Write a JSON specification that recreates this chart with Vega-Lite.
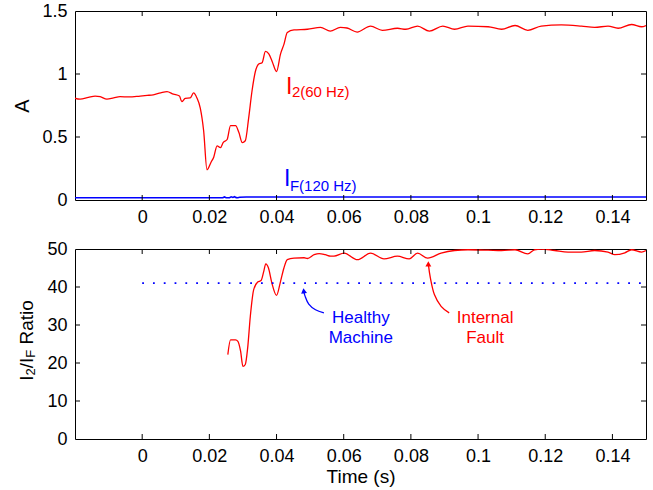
{
"$schema":"https://vega.github.io/schema/vega-lite/v6.json",
"background":"white",
"padding":{"left":12,"top":1,"right":6,"bottom":0},
"spacing":12,
"config":{"font":"Liberation Sans","view":{"stroke":"#000","strokeWidth":1},
 "axis":{"grid":false,"domain":false,"ticks":false,"labelColor":"#000","labelFontSize":18,"labelFont":"Liberation Sans","titleFont":"Liberation Sans","titleFontSize":19,"titleFontWeight":"normal","titleColor":"#000","labelPadding":8}},
"datasets":{
 "i2":[{"t":-0.0203,"v":0.81},{"t":-0.0185,"v":0.8},{"t":-0.016,"v":0.815},{"t":-0.014,"v":0.825},{"t":-0.0125,"v":0.82},{"t":-0.0105,"v":0.8},{"t":-0.0085,"v":0.81},{"t":-0.0066,"v":0.82},{"t":-0.004,"v":0.818},{"t":-0.0006,"v":0.825},{"t":0.0015,"v":0.83},{"t":0.0033,"v":0.835},{"t":0.0055,"v":0.85},{"t":0.0074,"v":0.86},{"t":0.0093,"v":0.84},{"t":0.0111,"v":0.825},{"t":0.0118,"v":0.78},{"t":0.0128,"v":0.807},{"t":0.0143,"v":0.81},{"t":0.0153,"v":0.85},{"t":0.0163,"v":0.81},{"t":0.0173,"v":0.73},{"t":0.0183,"v":0.55},{"t":0.0193,"v":0.24},{"t":0.0205,"v":0.3},{"t":0.0213,"v":0.34},{"t":0.0223,"v":0.43},{"t":0.0233,"v":0.415},{"t":0.0241,"v":0.455},{"t":0.0253,"v":0.48},{"t":0.0263,"v":0.59},{"t":0.0278,"v":0.59},{"t":0.0288,"v":0.535},{"t":0.0298,"v":0.455},{"t":0.0307,"v":0.47},{"t":0.0317,"v":0.65},{"t":0.0327,"v":0.865},{"t":0.0337,"v":1.02},{"t":0.0347,"v":1.08},{"t":0.0357,"v":1.09},{"t":0.0367,"v":1.18},{"t":0.0377,"v":1.16},{"t":0.0387,"v":1.1},{"t":0.04,"v":1.02},{"t":0.0412,"v":1.16},{"t":0.0422,"v":1.235},{"t":0.0432,"v":1.33},{"t":0.0452,"v":1.35},{"t":0.0492,"v":1.355},{"t":0.0531,"v":1.37},{"t":0.056,"v":1.34},{"t":0.059,"v":1.37},{"t":0.061,"v":1.365},{"t":0.064,"v":1.333},{"t":0.068,"v":1.38},{"t":0.0715,"v":1.347},{"t":0.076,"v":1.363},{"t":0.0785,"v":1.355},{"t":0.082,"v":1.38},{"t":0.0855,"v":1.34},{"t":0.0895,"v":1.38},{"t":0.093,"v":1.355},{"t":0.097,"v":1.38},{"t":0.103,"v":1.375},{"t":0.107,"v":1.355},{"t":0.111,"v":1.385},{"t":0.1148,"v":1.347},{"t":0.1188,"v":1.38},{"t":0.1248,"v":1.39},{"t":0.1308,"v":1.38},{"t":0.1347,"v":1.37},{"t":0.1387,"v":1.38},{"t":0.1417,"v":1.363},{"t":0.1457,"v":1.393},{"t":0.1487,"v":1.375},{"t":0.15,"v":1.385}],
 "iF":[{"t":-0.0203,"v":0.018},{"t":0.024,"v":0.018},{"t":0.0245,"v":0.024},{"t":0.025,"v":0.018},{"t":0.026,"v":0.018},{"t":0.0265,"v":0.025},{"t":0.027,"v":0.02},{"t":0.0275,"v":0.026},{"t":0.028,"v":0.019},{"t":0.0285,"v":0.018},{"t":0.029,"v":0.022},{"t":0.031,"v":0.024},{"t":0.15,"v":0.024}],
 "ratio":[{"t":0.0255,"v":22.2},{"t":0.0263,"v":26.1},{"t":0.0278,"v":26.1},{"t":0.0285,"v":25.7},{"t":0.0293,"v":23.1},{"t":0.03,"v":19.1},{"t":0.0307,"v":19.6},{"t":0.0314,"v":23.9},{"t":0.0322,"v":32.3},{"t":0.0332,"v":39.3},{"t":0.0344,"v":41.3},{"t":0.0354,"v":41.7},{"t":0.0362,"v":44.1},{"t":0.0368,"v":46.1},{"t":0.0376,"v":45.0},{"t":0.0386,"v":41.1},{"t":0.04,"v":37.8},{"t":0.0412,"v":41.5},{"t":0.0422,"v":45.0},{"t":0.0432,"v":47.2},{"t":0.0452,"v":47.6},{"t":0.0482,"v":47.7},{"t":0.0492,"v":47.5},{"t":0.0512,"v":48.5},{"t":0.0527,"v":48.8},{"t":0.0545,"v":48.5},{"t":0.0561,"v":48.1},{"t":0.0571,"v":48.1},{"t":0.0601,"v":48.9},{"t":0.0641,"v":47.2},{"t":0.068,"v":48.9},{"t":0.072,"v":47.4},{"t":0.076,"v":48.1},{"t":0.0795,"v":47.4},{"t":0.082,"v":48.9},{"t":0.085,"v":47.6},{"t":0.089,"v":48.9},{"t":0.093,"v":49.6},{"t":0.097,"v":49.8},{"t":0.103,"v":49.7},{"t":0.107,"v":49.6},{"t":0.111,"v":49.8},{"t":0.1148,"v":48.7},{"t":0.1168,"v":49.8},{"t":0.1188,"v":50.0},{"t":0.1228,"v":49.6},{"t":0.1268,"v":49.2},{"t":0.1307,"v":49.2},{"t":0.1347,"v":49.6},{"t":0.1387,"v":49.2},{"t":0.1407,"v":48.5},{"t":0.1437,"v":49.0},{"t":0.1457,"v":49.8},{"t":0.1487,"v":49.2},{"t":0.15,"v":49.6}],
 "healthy":[{"t":0,"v":41},{"t":0.15,"v":41}],
 "arrowH":[{"i":0,"t":0.0541,"v":33.2},{"i":1,"t":0.0516,"v":34.0},{"i":2,"t":0.0496,"v":35.5},{"i":3,"t":0.0485,"v":37.6},{"i":4,"t":0.0481,"v":39.0}],
 "arrowF":[{"i":0,"t":0.0914,"v":33.2},{"i":1,"t":0.089,"v":34.9},{"i":2,"t":0.087,"v":38.0},{"i":3,"t":0.0858,"v":42.4},{"i":4,"t":0.0852,"v":46.0}],
 "xticksTop":[{"t":0,"v":0},{"t":0.02,"v":0},{"t":0.04,"v":0},{"t":0.06,"v":0},{"t":0.08,"v":0},{"t":0.1,"v":0},{"t":0.12,"v":0},{"t":0.14,"v":0},{"t":0,"v":1.5},{"t":0.02,"v":1.5},{"t":0.04,"v":1.5},{"t":0.06,"v":1.5},{"t":0.08,"v":1.5},{"t":0.1,"v":1.5},{"t":0.12,"v":1.5},{"t":0.14,"v":1.5}],
 "yticksTop":[{"t":-0.02,"v":0.5},{"t":-0.02,"v":1},{"t":0.15,"v":0.5},{"t":0.15,"v":1}],
 "xticksBottom":[{"t":0,"v":0},{"t":0.02,"v":0},{"t":0.04,"v":0},{"t":0.06,"v":0},{"t":0.08,"v":0},{"t":0.1,"v":0},{"t":0.12,"v":0},{"t":0.14,"v":0},{"t":0,"v":50},{"t":0.02,"v":50},{"t":0.04,"v":50},{"t":0.06,"v":50},{"t":0.08,"v":50},{"t":0.1,"v":50},{"t":0.12,"v":50},{"t":0.14,"v":50}],
 "yticksBottom":[{"t":-0.02,"v":10},{"t":-0.02,"v":20},{"t":-0.02,"v":30},{"t":-0.02,"v":40},{"t":0.15,"v":10},{"t":0.15,"v":20},{"t":0.15,"v":30},{"t":0.15,"v":40}]
},
"vconcat":[
{
 "width":571,"height":189,
 "encoding":{
  "x":{"field":"t","type":"quantitative","scale":{"domain":[-0.02,0.15],"nice":false,"zero":false},"axis":{"orient":"bottom","values":[0,0.02,0.04,0.06,0.08,0.1,0.12,0.14],"format":"~r","title":null}},
  "y":{"field":"v","type":"quantitative","scale":{"domain":[0,1.5],"nice":false,"zero":false},"axis":{"orient":"left","values":[0,0.5,1,1.5],"format":"~r","title":"A","titleFontSize":20,"titlePadding":9}}},
 "layer":[
  {"data":{"name":"i2"},"mark":{"type":"line","color":"#ff0000","strokeWidth":1.3,"clip":true,"interpolate":"monotone"}},
  {"data":{"name":"iF"},"mark":{"type":"line","color":"#0000ff","strokeWidth":1.6,"clip":true}},
  {"data":{"name":"xticksTop"},"mark":{"type":"tick","orient":"vertical","size":10,"thickness":1,"color":"#000","opacity":1,"clip":true}},
  {"data":{"name":"yticksTop"},"mark":{"type":"tick","orient":"horizontal","size":10,"thickness":1,"color":"#000","opacity":1,"clip":true}},
  {"data":{"values":[{"t":0.0428,"v":0.84,"s":"I"}]},"mark":{"type":"text","color":"#ff0000","fontSize":23,"align":"left","baseline":"alphabetic"},"encoding":{"text":{"field":"s"}}},
  {"data":{"values":[{"t":0.0428,"v":0.84,"s":"2(60 Hz)"}]},"mark":{"type":"text","color":"#ff0000","fontSize":15,"align":"left","baseline":"alphabetic","dx":6,"dy":3},"encoding":{"text":{"field":"s"}}},
  {"data":{"values":[{"t":0.0422,"v":0.111,"s":"I"}]},"mark":{"type":"text","color":"#0000ff","fontSize":23,"align":"left","baseline":"alphabetic"},"encoding":{"text":{"field":"s"}}},
  {"data":{"values":[{"t":0.0422,"v":0.111,"s":"F(120 Hz)"}]},"mark":{"type":"text","color":"#0000ff","fontSize":15,"align":"left","baseline":"alphabetic","dx":6,"dy":5},"encoding":{"text":{"field":"s"}}}
 ]
},
{
 "width":571,"height":190,
 "encoding":{
  "x":{"field":"t","type":"quantitative","scale":{"domain":[-0.02,0.15],"nice":false,"zero":false},"axis":{"orient":"bottom","values":[0,0.02,0.04,0.06,0.08,0.1,0.12,0.14],"format":"~r","title":"Time (s)","titlePadding":2}},
  "y":{"field":"v","type":"quantitative","scale":{"domain":[0,50],"nice":false,"zero":false},"axis":{"orient":"left","values":[0,10,20,30,40,50],"format":"~r","title":null}}},
 "layer":[
  {"data":{"name":"ratio"},"mark":{"type":"line","color":"#ff0000","strokeWidth":1.3,"clip":true,"interpolate":"monotone"}},
  {"data":{"name":"healthy"},"mark":{"type":"line","color":"#0000ff","strokeWidth":1.8,"strokeDash":[1.8,9],"clip":true}},
  {"data":{"name":"xticksBottom"},"mark":{"type":"tick","orient":"vertical","size":10,"thickness":1,"color":"#000","opacity":1,"clip":true}},
  {"data":{"name":"yticksBottom"},"mark":{"type":"tick","orient":"horizontal","size":10,"thickness":1,"color":"#000","opacity":1,"clip":true}},
  {"data":{"name":"arrowH"},"mark":{"type":"line","color":"#0000ff","strokeWidth":1.3,"interpolate":"cardinal"},"encoding":{"order":{"field":"i"}}},
  {"data":{"name":"arrowF"},"mark":{"type":"line","color":"#ff0000","strokeWidth":1.3,"interpolate":"cardinal"},"encoding":{"order":{"field":"i"}}},
  {"data":{"values":[{"t":0.0481,"v":39.0}]},"mark":{"type":"point","shape":"triangle-up","filled":true,"color":"#0000ff","size":35,"opacity":1,"angle":-8}},
  {"data":{"values":[{"t":0.0852,"v":46.1}]},"mark":{"type":"point","shape":"triangle-up","filled":true,"color":"#ff0000","size":35,"opacity":1}},
  {"data":{"values":[{"t":0.0651,"v":30.5,"s":"Healthy\nMachine"}]},"mark":{"type":"text","color":"#0000ff","fontSize":17,"align":"center","baseline":"alphabetic","lineBreak":"\n","lineHeight":20},"encoding":{"text":{"field":"s"}}},
  {"data":{"values":[{"t":0.1021,"v":30.5,"s":"Internal\nFault"}]},"mark":{"type":"text","color":"#ff0000","fontSize":17,"align":"center","baseline":"alphabetic","lineBreak":"\n","lineHeight":20},"encoding":{"text":{"field":"s"}}},
  {"data":{"values":[{"t":-0.0325,"v":15.3,"s":"I"}]},"mark":{"type":"text","color":"#000","fontSize":19,"align":"left","baseline":"alphabetic","angle":270},"encoding":{"text":{"field":"s"}}},
  {"data":{"values":[{"t":-0.0325,"v":15.3,"s":"2"}]},"mark":{"type":"text","color":"#000","fontSize":13,"align":"left","baseline":"alphabetic","angle":270,"dx":5.3,"dy":2},"encoding":{"text":{"field":"s"}}},
  {"data":{"values":[{"t":-0.0325,"v":15.3,"s":"/I"}]},"mark":{"type":"text","color":"#000","fontSize":19,"align":"left","baseline":"alphabetic","angle":270,"dx":12.5},"encoding":{"text":{"field":"s"}}},
  {"data":{"values":[{"t":-0.0325,"v":15.3,"s":"F"}]},"mark":{"type":"text","color":"#000","fontSize":13,"align":"left","baseline":"alphabetic","angle":270,"dx":23.1,"dy":2},"encoding":{"text":{"field":"s"}}},
  {"data":{"values":[{"t":-0.0325,"v":15.3,"s":"Ratio"}]},"mark":{"type":"text","color":"#000","fontSize":19,"align":"left","baseline":"alphabetic","angle":270,"dx":36.3},"encoding":{"text":{"field":"s"}}}
 ]
}
]
}
